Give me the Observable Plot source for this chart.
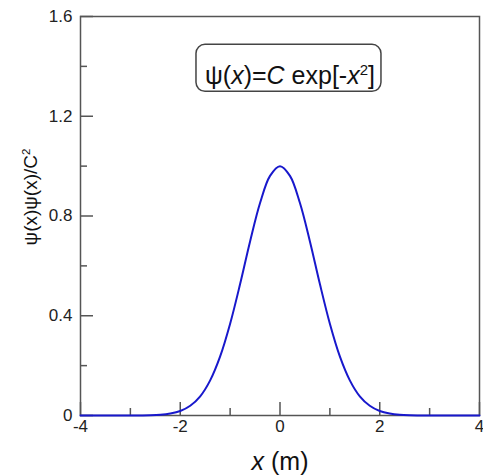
<!DOCTYPE html>
<html><head><meta charset="utf-8">
<script src="https://cdn.jsdelivr.net/npm/d3@7"></script>
<script src="https://cdn.jsdelivr.net/npm/@observablehq/plot@0.6"></script>
<style>body{margin:0;background:#fff} svg{font-family:"Liberation Sans",Arial,sans-serif}</style>
</head><body><div id="chart"></div>
<script>
const xValues = [-4,-3.8,-3.6,-3.4,-3.2,-3,-2.8,-2.6,-2.4,-2.2,-2,-1.8,-1.6,-1.4,-1.2,-1,-0.8,-0.6,-0.4,-0.2,0,0.2,0.4,0.6,0.8,1,1.2,1.4,1.6,1.8,2,2.2,2.4,2.6,2.8,3,3.2,3.4,3.6,3.8,4];
const density = [0,0,0,0,0,0.0001,0.0004,0.001,0.003,0.008,0.018,0.039,0.077,0.141,0.237,0.368,0.527,0.698,0.852,0.961,1.0,0.961,0.852,0.698,0.527,0.368,0.237,0.141,0.077,0.039,0.018,0.008,0.003,0.001,0.0004,0.0001,0,0,0,0,0];
const yMajorTicks = [0,0.4,0.8,1.2,1.6];
const yMinorTicks = [0.2,0.6,1.0,1.4];
const xMajorTicks = [-4,-2,0,2,4];
const xMinorTicks = [-3,-1,1,3];
const xLabel = "x (m)";
const yLabel = "ψ(x)ψ(x)/C²";
const annotationText = "ψ(x)=C exp[-x²]";
const annotation = [{x: 0.2, y: 1.36}];

const data = xValues.map((x, i) => ({x, y: density[i]}));
const fmt = d => d === 0 ? "0" : String(d);
const blank = () => "";
const tickStyle = {stroke: "#555", strokeWidth: 1.5, label: null, tickFormat: blank};

const plot = Plot.plot({
  width: 483, height: 475,
  marginLeft: 80, marginRight: 4, marginTop: 16, marginBottom: 60,
  x: {domain: [-4, 4]},
  y: {domain: [0, 1.6]},
  style: {fontFamily: '"Liberation Sans", Arial, sans-serif', color: "#222", background: "#fff"},
  marks: [
    Plot.frame({stroke: "#555", strokeWidth: 1.5}),
    // inward tick marks
    Plot.axisY(yMajorTicks, {...tickStyle, tickSize: 13, dx: 13}),
    Plot.axisY(yMinorTicks, {...tickStyle, tickSize: 7, dx: 7}),
    Plot.axisX(xMajorTicks, {...tickStyle, tickSize: 13, dy: -13}),
    Plot.axisX(xMinorTicks, {...tickStyle, tickSize: 7, dy: -7}),
    // tick labels
    Plot.axisY(yMajorTicks, {tickSize: 0, tickPadding: 8, tickFormat: fmt, fontSize: 17, fill: "#222", label: null}),
    Plot.axisX(xMajorTicks, {tickSize: 0, tickPadding: 4, tickFormat: fmt, fontSize: 17, fill: "#222", label: null}),
    Plot.line(data, {x: "x", y: "y", stroke: "#1818cc", strokeWidth: 2, curve: "catmull-rom"}),
    Plot.text(annotation, {x: "x", y: "y", text: () => annotationText, fontSize: 25, fill: "#111", className: "anno"}),
    Plot.text([yLabel], {frameAnchor: "left", dx: -50, dy: -19, rotate: -90, textAnchor: "middle", lineAnchor: "middle", fontSize: 19, fill: "#111", className: "ylab"}),
    Plot.text([xLabel], {frameAnchor: "bottom", dy: 46, textAnchor: "middle", lineAnchor: "middle", fontSize: 25, fill: "#111", className: "xlab"})
  ]
});
document.getElementById("chart").appendChild(plot);

function rich(sel, segs) {
  const t = d3.select(plot).select(sel + " text");
  t.text(null);
  let prevSup = false;
  segs.forEach(([s, it, sup]) => {
    const ts = t.append("tspan").text(s);
    if (it) ts.attr("font-style", "italic");
    if (sup) ts.attr("font-size", "0.6em").attr("dy", "-0.6em");
    else if (prevSup) ts.attr("dy", "0.36em");
    prevSup = !!sup;
  });
  return t;
}
rich(".anno", [["ψ(",0],["x",1],[")=",0],["C",1],[" exp[-",0],["x",1],["2",0,1],["]",0]]);
rich(".ylab", [["ψ(x)ψ(x)/C",0],["2",0,1]]);
rich(".xlab", [["x",1],[" (m)",0]]);

const at = d3.select(plot).select(".anno text");
const bb = at.node().getBBox();
const cy = bb.y + bb.height / 2;
d3.select(plot).select(".anno").insert("rect", "text")
  .attr("transform", at.attr("transform"))
  .attr("x", bb.x - 9).attr("y", cy - 31).attr("width", bb.width + 15).attr("height", 47)
  .attr("rx", 9).attr("fill", "none").attr("stroke", "#444").attr("stroke-width", 1.5);
</script></body></html>
